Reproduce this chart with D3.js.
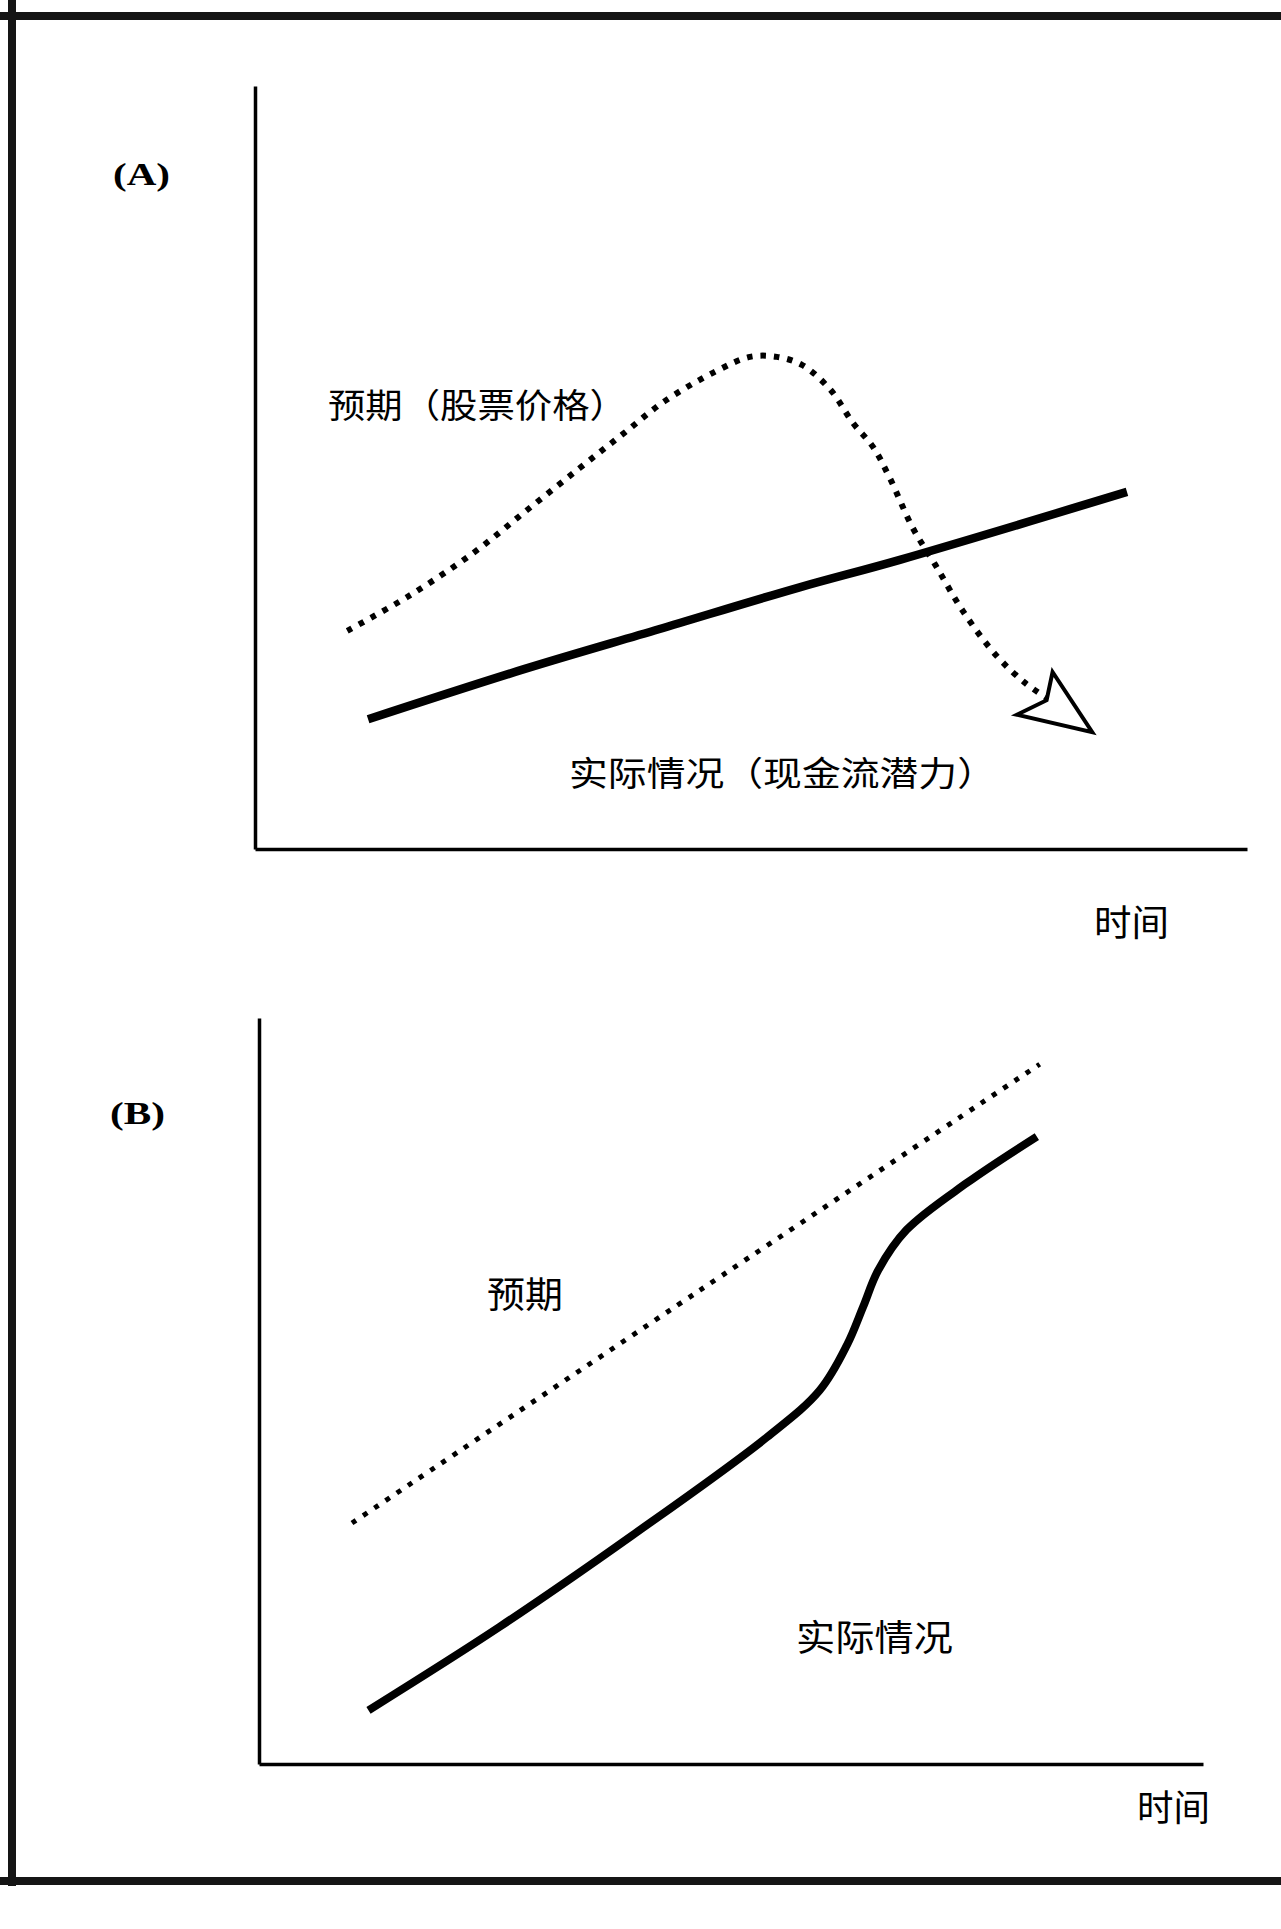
<!DOCTYPE html>
<html><head><meta charset="utf-8">
<script src="https://cdn.jsdelivr.net/npm/d3@7"></script>
<style>html,body{margin:0;padding:0;background:#fff}</style>
</head><body>
<svg id="c" width="1281" height="1929"></svg>
<script>
// ---------------- data ----------------
const panelLabels = ["(A)", "(B)"];
const timeLabel = "时间";
const aExpectLabel = "预期（股票价格）";
const aActualLabel = "实际情况（现金流潜力）";
const bExpectLabel = "预期";
const bActualLabel = "实际情况";

// Panel A: expectations (stock price), dotted
const aExpectX = [9.3, 15.3, 21.9, 27.4, 32.7, 37.1, 41.3, 46.3, 49.9, 52.6, 55.2, 58.0, 60.3, 62.3, 64.0, 66.3, 68.6, 71.4, 74.7, 77.6, 79.8];
const aExpectY = [28.6, 33.0, 38.7, 44.4, 49.9, 54.4, 58.7, 62.5, 64.5, 64.5, 63.4, 60.2, 55.8, 52.7, 48.6, 42.1, 37.2, 31.1, 25.4, 21.8, 19.8];
// Panel A: arrow head outline
const aArrowX = [80.4, 84.4, 76.8, 79.8];
const aArrowY = [23.2, 15.3, 17.6, 19.5];
// Panel A: actual (cash-flow potential), solid
const aActualX = [11.4, 27.2, 40.7, 54.9, 65.0, 87.9];
const aActualY = [17.0, 23.6, 28.8, 34.3, 37.9, 46.8];

// Panel B: expectations, dotted
const bExpectX = [9.85, 46.7, 82.7];
const bExpectY = [32.3, 63.5, 93.8];
// Panel B: actual, solid
const bActualX = [11.6, 25.5, 39.6, 53.8, 59.4, 62.3, 64.0, 65.6, 68.6, 75.0, 82.4];
const bActualY = [7.2, 18.4, 30.7, 43.8, 50.1, 56.2, 61.3, 66.2, 71.6, 77.9, 84.1];

// ---------------- drawing ----------------
const svg = d3.select("#c");
svg.append("rect").attr("width",1281).attr("height",1929).attr("fill","#fff");

// outer frame (left, top, bottom)
const frame = svg.append("g").attr("stroke","#151515").attr("stroke-width",8).attr("fill","none");
frame.append("line").attr("x1",12).attr("y1",0).attr("x2",12).attr("y2",1886);
frame.append("line").attr("x1",0).attr("y1",16).attr("x2",1281).attr("y2",16);
frame.append("line").attr("x1",0).attr("y1",1881).attr("x2",1281).attr("y2",1881);

const cjk = "'Noto Sans CJK SC', sans-serif";
const serif = "'Liberation Serif', 'DejaVu Serif', serif";

function zip(xs, ys){ return xs.map((x,i)=>[x, ys[i]]); }

function drawAxes(x, y){
  const gx = svg.append("g").attr("transform",`translate(0,${y.range()[0]})`)
    .call(d3.axisBottom(x).ticks(0).tickSizeOuter(0));
  const gy = svg.append("g").attr("transform",`translate(${x.range()[0]},0)`)
    .call(d3.axisLeft(y).ticks(0).tickSizeOuter(0));
  [gx, gy].forEach(g => g.select(".domain").attr("stroke","#000").attr("stroke-width",3.5));
}

function text(str, x, y, size, family, opts={}){
  const t = svg.append("text").attr("x",x).attr("y",y)
    .attr("font-size",size).attr("font-family",family)
    .attr("dominant-baseline","central").attr("fill","#000").text(str);
  if (opts.weight) t.attr("font-weight",opts.weight);
  if (opts.len) t.attr("textLength",opts.len).attr("lengthAdjust","spacingAndGlyphs");
  return t;
}

// ===== Panel A =====
const xA = d3.scaleLinear().domain([0,100]).range([255,1247]);
const yA = d3.scaleLinear().domain([0,100]).range([849,86]);
drawAxes(xA, yA);

const lineA = d3.line().x(d=>xA(d[0])).y(d=>yA(d[1])).curve(d3.curveCatmullRom.alpha(0.5));
svg.append("path").attr("d", lineA(zip(aActualX,aActualY)))
  .attr("fill","none").attr("stroke","#000").attr("stroke-width",8.5).attr("stroke-linecap","butt");
svg.append("path").attr("d", lineA(zip(aExpectX,aExpectY)))
  .attr("fill","none").attr("stroke","#000").attr("stroke-width",6)
  .attr("stroke-dasharray","5.5,8");
const arrowLine = d3.line().x(d=>xA(d[0])).y(d=>yA(d[1])).curve(d3.curveLinearClosed);
svg.append("path").attr("d", arrowLine(zip(aArrowX,aArrowY)))
  .attr("fill","#fff").attr("stroke","#000").attr("stroke-width",4).attr("stroke-linejoin","miter");

text(panelLabels[0], 113, 174, 31, serif, {weight:"bold", len:57});
text(aExpectLabel, 328, 403, 34, cjk, {len:299});
text(aActualLabel, 569, 771, 34, cjk, {len:427});
text(timeLabel, 1094, 920, 36, cjk, {len:75});

// ===== Panel B =====
const xB = d3.scaleLinear().domain([0,100]).range([259,1203]);
const yB = d3.scaleLinear().domain([0,100]).range([1764,1018]);
drawAxes(xB, yB);

const lineB = d3.line().x(d=>xB(d[0])).y(d=>yB(d[1])).curve(d3.curveCatmullRom.alpha(0.5));
svg.append("path").attr("d", lineB(zip(bActualX,bActualY)))
  .attr("fill","none").attr("stroke","#000").attr("stroke-width",8).attr("stroke-linecap","butt");
svg.append("path").attr("d", lineB(zip(bExpectX,bExpectY)))
  .attr("fill","none").attr("stroke","#000").attr("stroke-width",5)
  .attr("stroke-dasharray","5,8.5");

text(panelLabels[1], 110, 1113, 31, serif, {weight:"bold", len:55});
text(bExpectLabel, 487, 1292, 36, cjk, {len:76});
text(bActualLabel, 796, 1635, 36, cjk, {len:157});
text(timeLabel, 1137, 1805, 36, cjk, {len:73});
</script>
</body></html>
